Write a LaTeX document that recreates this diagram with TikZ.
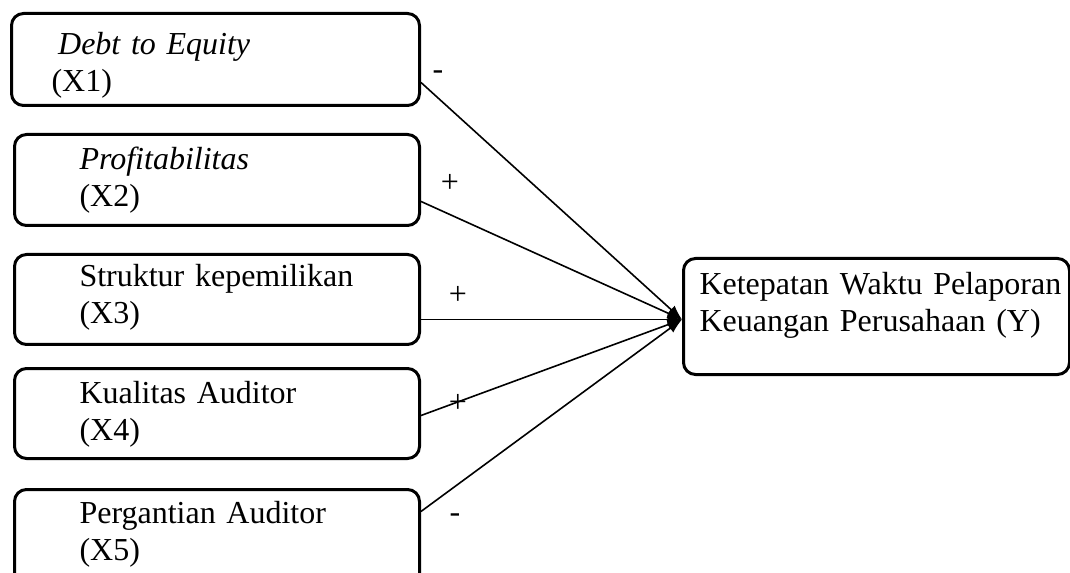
\documentclass[tikz,border=0pt]{standalone}
\usepackage{fontspec}
\setmainfont{Liberation Serif}
\usetikzlibrary{arrows.meta}

\begin{document}
\begin{tikzpicture}[x=0.75pt,y=-0.75pt]
   \tikzset{varbox/.style = {shape=rectangle,draw,line width=2.25pt,rounded corners=9pt,anchor=north west,inner ysep=0pt,align=left,font=\fontsize{24}{27.75}\selectfont}}
   \tikzset{sign/.style = {font=\fontsize{24}{27.75}\selectfont,inner sep=0pt}}
   \useasboundingbox (0,0) rectangle (1070,573);

   \node[varbox,inner xsep=30pt,text width=246pt,text height=30.75pt,text depth=38.25pt] (x1) at (10,12) {\hspace*{5pt}\textit{Debt to Equity}\\(X1)};
   \node[varbox,inner xsep=48.75pt,text width=206.25pt,text height=26.25pt,text depth=42pt] (x2) at (13,133) {\textit{Profitabilitas}\\(X2)};
   \node[varbox,inner xsep=48.75pt,text width=206.25pt,text height=24pt,text depth=43.5pt] (x3) at (13,253) {\mbox{Struktur kepemilikan}\\(X3)};
   \node[varbox,inner xsep=48.75pt,text width=206.25pt,text height=26.25pt,text depth=41.25pt] (x4) at (13,367) {\mbox{Kualitas Auditor}\\(X4)};
   \node[varbox,inner xsep=48.75pt,text width=206.25pt,text height=25.5pt,text depth=47.25pt] (x5) at (13,488) {\mbox{Pergantian Auditor}\\(X5)};
   \node[varbox,inner xsep=12pt,text width=265.5pt,text height=27pt,text depth=60pt] (y) at (682,257) {\mbox{Ketepatan Waktu Pelaporan}\\\mbox{Keuangan Perusahaan (Y)}};

   \draw[line width=1.2pt,-{Latex[length=11pt,width=8pt]}] ([yshift=-17.25pt]x1.east) -- ([yshift=-2.25pt]y.west);
   \draw[line width=1.2pt,-{Latex[length=11pt,width=8pt]}] ([yshift=-16.1pt]x2.east) -- ([yshift=-2.25pt]y.west);
   \draw[line width=1.2pt,-{Latex[length=11pt,width=8pt]}] ([yshift=-15pt]x3.east) -- ([yshift=-2.25pt]y.west);
   \draw[line width=1.2pt,-{Latex[length=11pt,width=8pt]}] ([yshift=-1.5pt]x4.east) -- ([yshift=-2.25pt]y.west);
   \draw[line width=1.2pt,-{Latex[length=11pt,width=8pt]}] ([yshift=19.9pt]x5.east) -- ([yshift=-2.25pt]y.west);

   \node[sign] (s1) at (438,75) {-};
   \node[sign] (s2) at (450,183) {+};
   \node[sign] (s3) at (458,295) {+};
   \node[sign] (s4) at (458,403) {+};
   \node[sign] (s5) at (455,518) {-};
  \end{tikzpicture}
\end{document}
